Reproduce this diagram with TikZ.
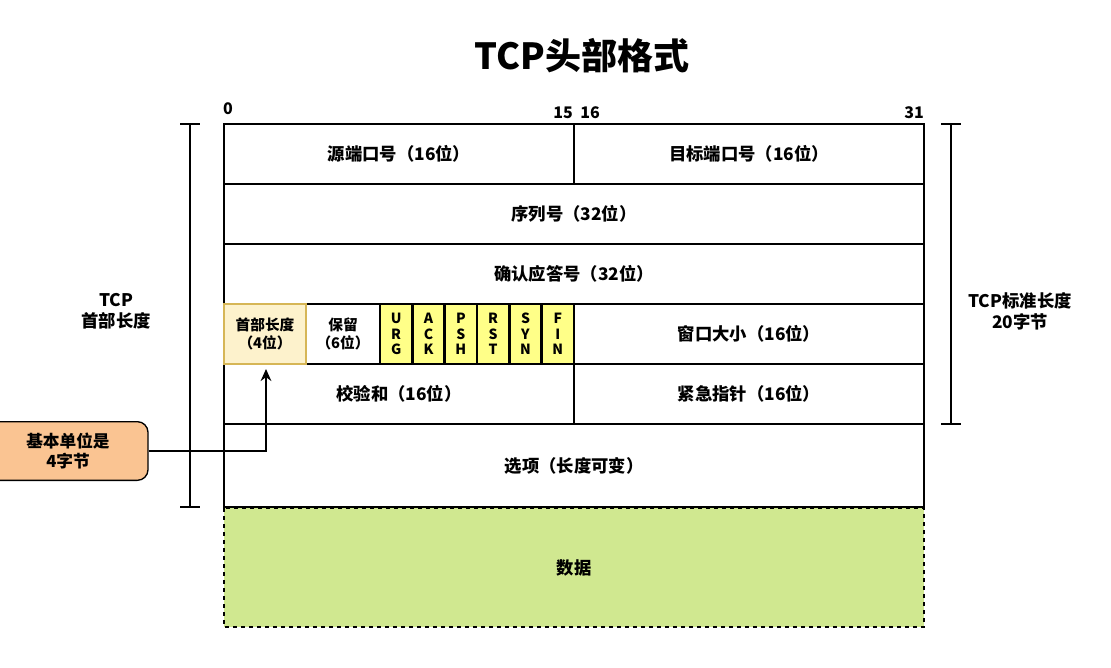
\documentclass[tikz,border=0pt]{standalone}
\usepackage{fontspec}
\setmainfont{Noto Sans CJK SC}
\usetikzlibrary{arrows.meta, positioning}
\definecolor{hdrfill}{RGB}{253, 242, 204}
\definecolor{hdrline}{RGB}{214, 182, 86}
\definecolor{flagfill}{RGB}{255, 255, 136}
\definecolor{datafill}{RGB}{208, 232, 144}
\definecolor{notefill}{RGB}{250, 196, 146}

\begin{document}
\begin{tikzpicture}[
    x=0.75pt, y=-0.75pt,
    field/.style={draw, line width=2pt, font=\bfseries\fontsize{13}{15}\selectfont, align=center},
    flag/.style={field, fill=flagfill, font=\bfseries\fontsize{10.5}{11.5}\selectfont},
    bitnum/.style={font=\bfseries\fontsize{12}{14}\selectfont, inner sep=0pt},
    side/.style={font=\bfseries\fontsize{13}{16}\selectfont, align=center},
    arrow/.style={-{Stealth[length=9pt, width=8pt]}, line width=2pt}
]
    \useasboundingbox (0,0) rectangle (1111,668);

    % Title
    \node[font=\bfseries\fontsize{27}{30}\selectfont] (title) at (582,56) {TCP头部格式};

    % Bit numbers
    \node[bitnum] (b0) at (228,109) {0};
    \node[bitnum] (b15) at (563,113) {15};
    \node[bitnum] (b16) at (590,113) {16};
    \node[bitnum] (b31) at (914,113) {31};

    % Header rows
    \draw[field] (224,124) rectangle node (srcport) {源端口号（16位）} (574,184);
    \draw[field] (574,124) rectangle node (dstport) {目标端口号（16位）} (924,184);
    \draw[field] (224,184) rectangle node (seq) {序列号（32位）} (924,244);
    \draw[field] (224,244) rectangle node (ack) {确认应答号（32位）} (924,304);
    \draw[field] (306,304) rectangle node[font=\bfseries\fontsize{11}{14}\selectfont] (rsv) {保留\\（6位）} (380,364);
    \foreach \f [count=\i from 0] in {U\\R\\G, A\\C\\K, P\\S\\H, R\\S\\T, S\\Y\\N, F\\I\\N} {
        \draw[flag] ({380+\i*32.33},304) rectangle node[align=center] (flag\i) {\f} ({380+(\i+1)*32.33},364);
    }
    \draw[field] (574,304) rectangle node (window) {窗口大小（16位）} (924,364);
    \draw[field] (224,364) rectangle node (checksum) {校验和（16位）} (574,424);
    \draw[field] (574,364) rectangle node (urgent) {紧急指针（16位）} (924,424);
    \draw[field] (224,424) rectangle node (options) {选项（长度可变）} (924,507);
    \draw[field, draw=hdrline, fill=hdrfill] (224,304) rectangle node[font=\bfseries\fontsize{11}{14}\selectfont] (hdrlen) {首部长度\\（4位）} (306,364);

    % Data
    \draw[field, dashed, fill=datafill] (224,508) rectangle node (data) {数据} (924,627);

    % Brackets
    \draw[line width=1.5pt] (180,124) -- (200,124) (190,124) -- (190,507) (180,507) -- (200,507);
    \draw[line width=1.5pt] (941,124) -- (961,124) (951,124) -- (951,424) (941,424) -- (961,424);
    \node[side] (lefttxt) at (116,311) {TCP\\首部长度};
    \node[side] (righttxt) at (1020,311) {TCP标准长度\\20字节};

    % Note
    \node[draw, line width=1pt, rounded corners=8pt, fill=notefill, minimum width=120\pgflinewidth, text width=84pt, minimum height=44pt, align=center, font=\bfseries\fontsize{12.5}{15}\selectfont] (note) at (68,451) {基本单位是\\4字节};
    \coordinate (bend) at (266,451);
    \draw[arrow] (note.east) -- (bend) -- (266,369);
\end{tikzpicture}
\end{document}
